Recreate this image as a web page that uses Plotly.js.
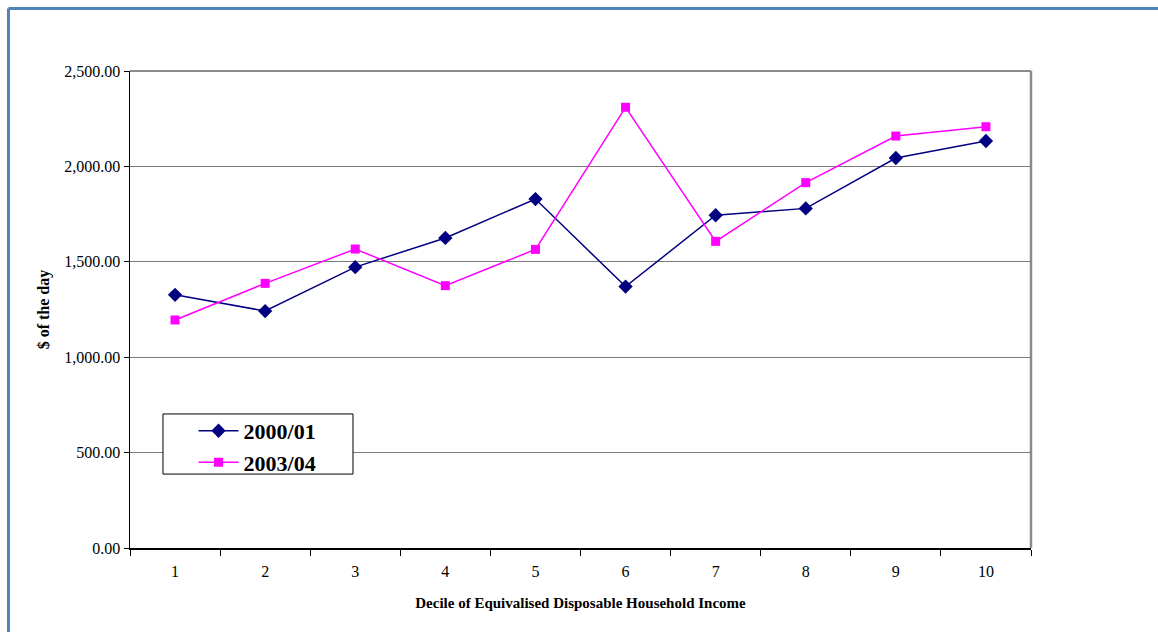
<!DOCTYPE html>
<html><head><meta charset="utf-8">
<script src="https://cdn.plot.ly/plotly-3.0.1.min.js"></script>
<style>html,body{margin:0;padding:0;background:#fff}#chart{width:1158px;height:632px}</style>
</head><body><div id="chart"></div>
<script>
const deciles = ['1','2','3','4','5','6','7','8','9','10'];
const series2000 = [1327, 1242, 1472, 1625, 1829, 1370, 1744, 1780, 2044, 2133];
const series2003 = [1195, 1387, 1567, 1375, 1565, 2310, 1607, 1915, 2159, 2208];
const seriesNames = ['2000/01', '2003/04'];
const yTicks = [0, 500, 1000, 1500, 2000, 2500];
const yTickLabels = ['0.00', '500.00', '1,000.00', '1,500.00', '2,000.00', '2,500.00'];
const xTitle = 'Decile of Equivalised Disposable Household Income';
const yTitle = '$ of the day';

const serif = "'Liberation Serif', 'Times New Roman', serif";

const traces = [
  {x: deciles, y: series2000, name: seriesNames[0], type: 'scatter', mode: 'lines+markers',
   line: {color: '#000080', width: 1.5}, marker: {symbol: 'diamond', size: 11, color: '#000080'}},
  {x: deciles, y: series2003, name: seriesNames[1], type: 'scatter', mode: 'lines+markers',
   line: {color: '#FF00FF', width: 1.5}, marker: {symbol: 'square', size: 9, color: '#FF00FF'}}
];

const layout = {
  width: 1158, height: 632,
  margin: {l: 130, r: 127, t: 71, b: 84},
  paper_bgcolor: '#fff', plot_bgcolor: '#fff',
  showlegend: true,
  font: {family: serif, color: '#000'},
  xaxis: {
    type: 'category', range: [-0.5, 9.5], tickson: 'boundaries',
    ticks: 'outside', ticklen: 6, tickcolor: '#000', tickwidth: 1,
    showline: true, linecolor: '#000', linewidth: 1.5,
    showgrid: false, zeroline: false,
    tickfont: {family: serif, size: 16, color: '#000'},
    ticklabelstandoff: 8,
    title: {text: xTitle, font: {family: serif, size: 15, color: '#000', weight: 'bold'}, standoff: 19},
    fixedrange: true
  },
  yaxis: {
    range: [0, 2500], tickvals: yTicks, ticktext: yTickLabels,
    ticks: 'outside', ticklen: 5, tickcolor: '#000', tickwidth: 1,
    showline: true, linecolor: '#000', linewidth: 1.5,
    showgrid: true, gridcolor: '#7a7a7a', gridwidth: 1, zeroline: false,
    tickfont: {family: serif, size: 16, color: '#000'},
    title: {text: yTitle, font: {family: serif, size: 16, color: '#000', weight: 'bold'}, standoff: 10},
    fixedrange: true
  },
  legend: {
    x: 0.0705, y: 0.2894, xanchor: 'left', yanchor: 'top',
    bgcolor: 'rgba(0,0,0,0)', borderwidth: 0,
    font: {family: serif, size: 22, color: '#000', weight: 'bold'},
    itemwidth: 40
  },
  shapes: [
    {type: 'line', xref: 'paper', yref: 'paper', x0: 0, x1: 1, y0: 1, y1: 1, line: {color: '#8a8a8a', width: 2}, layer: 'below'},
    {type: 'line', xref: 'paper', yref: 'paper', x0: 1, x1: 1, y0: 0, y1: 1, line: {color: '#8a8a8a', width: 2.5}, layer: 'below'},
    {type: 'rect', xref: 'paper', yref: 'paper', x0: 0.0366, x1: 0.2475, y0: 0.155, y1: 0.281,
     fillcolor: '#fff', line: {color: '#000', width: 1}, layer: 'above'},
    {type: 'line', xref: 'paper', yref: 'paper', x0: -0.1349, x1: -0.1349, y0: -0.3, y1: 1.131, line: {color: '#4F81BD', width: 3}},
    {type: 'line', xref: 'paper', yref: 'paper', x0: -0.1349, x1: 1.2, y0: 1.131, y1: 1.131, line: {color: '#4F81BD', width: 3}}
  ]
};

Plotly.newPlot('chart', traces, layout, {displayModeBar: false, staticPlot: true});
</script>
</body></html>
